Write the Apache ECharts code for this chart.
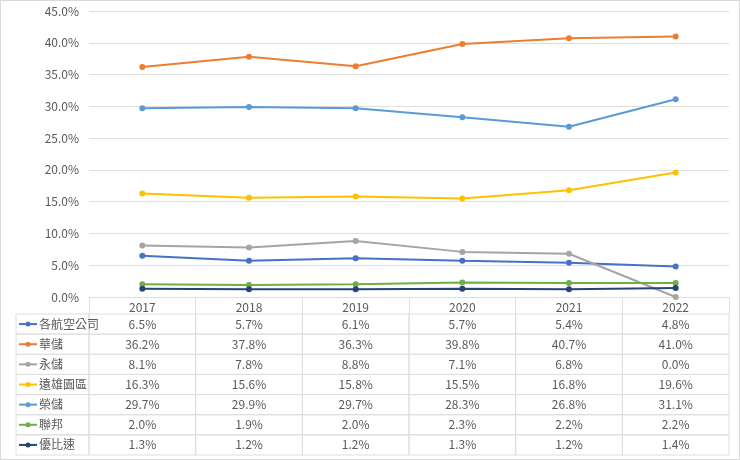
<!DOCTYPE html>
<html>
<head>
<meta charset="utf-8">
<script src="https://cdn.jsdelivr.net/npm/echarts@6/dist/echarts.min.js"></script>
<style>
html,body{margin:0;padding:0;background:#fff;}
#c{width:740px;height:460px;box-sizing:border-box;border:1px solid #d9d9d9;}
</style>
</head>
<body>
<div id="c"></div>
<script>
const years = ['2017','2018','2019','2020','2021','2022'];
const names = ['各航空公司','華儲','永儲','遠雄園區','榮儲','聯邦','優比速'];
const airlines  = [6.5, 5.7, 6.1, 5.7, 5.4, 4.8];
const huachu    = [36.2, 37.8, 36.3, 39.8, 40.7, 41.0];
const yongchu   = [8.1, 7.8, 8.8, 7.1, 6.8, 0.0];
const yuanxiong = [16.3, 15.6, 15.8, 15.5, 16.8, 19.6];
const rongchu   = [29.7, 29.9, 29.7, 28.3, 26.8, 31.1];
const lianbang  = [2.0, 1.9, 2.0, 2.3, 2.2, 2.2];
const ups       = [1.3, 1.2, 1.2, 1.3, 1.2, 1.4];
const yTicks = [0, 5, 10, 15, 20, 25, 30, 35, 40, 45];

const seriesData = [airlines, huachu, yongchu, yuanxiong, rongchu, lianbang, ups];
const colors = ['#4472C4','#ED7D31','#A5A5A5','#FFC000','#5B9BD5','#70AD47','#264478'];
const FONT = '"Noto Sans CJK TC","Noto Sans",sans-serif';
const TXT = '#595959';
const LINE = '#dedede';
const LABEL_COL_W = 73;

const chart = echarts.init(document.getElementById('c'), null, {renderer:'canvas'});

const lineSeries = names.map((n, i) => ({
  name: n,
  type: 'line',
  xAxisIndex: 0, yAxisIndex: 0,
  data: seriesData[i],
  symbol: 'circle',
  symbolSize: 6,
  lineStyle: {width: 2, color: colors[i]},
  itemStyle: {color: colors[i]},
  z: 3 + i
}));

const cellData = [];
seriesData.forEach((arr, s) => arr.forEach((v, c) => cellData.push([c, s, v])));

const cellSeries = {
  type: 'custom',
  xAxisIndex: 1, yAxisIndex: 1,
  data: cellData,
  encode: {x: 0, y: 1},
  silent: true,
  renderItem: function (params, api) {
    const p = api.coord([api.value(0), api.value(1)]);
    const sz = api.size([1, 1]);
    const v = api.value(2);
    return {
      type: 'group',
      children: [
        {type: 'rect', shape: {x: p[0] - sz[0]/2, y: p[1] - sz[1]/2, width: sz[0], height: sz[1]},
         style: {fill: null, stroke: LINE, lineWidth: 1}},
        {type: 'text', style: {x: p[0], y: p[1], text: v.toFixed(1) + '%', fill: TXT,
         font: '12px ' + FONT, align: 'center', verticalAlign: 'middle'}}
      ]
    };
  }
};

const labelSeries = {
  type: 'custom',
  xAxisIndex: 1, yAxisIndex: 1,
  data: names.map((n, i) => [0, i]),
  encode: {x: 0, y: 1},
  silent: true,
  clip: false,
  renderItem: function (params, api) {
    const s = api.value(1);
    const p = api.coord([0, s]);
    const sz = api.size([1, 1]);
    const right = p[0] - sz[0]/2;
    const left = right - LABEL_COL_W;
    const y = p[1];
    return {
      type: 'group',
      children: [
        {type: 'rect', shape: {x: left, y: y - sz[1]/2, width: LABEL_COL_W, height: sz[1]},
         style: {fill: null, stroke: LINE, lineWidth: 1}},
        {type: 'line', shape: {x1: left + 3, y1: y, x2: left + 21, y2: y},
         style: {stroke: colors[s], lineWidth: 2}},
        {type: 'circle', shape: {cx: left + 12, cy: y, r: 2.5}, style: {fill: colors[s]}},
        {type: 'text', style: {x: left + 23, y: y, text: names[s], fill: TXT,
         font: '12px ' + FONT, align: 'left', verticalAlign: 'middle'}}
      ]
    };
  }
};

chart.setOption({
  animation: false,
  backgroundColor: '#fff',
  textStyle: {fontFamily: FONT},
  grid: [
    {left: 88, right: 10, top: 10, height: 286},
    {left: 88, right: 10, top: 313, height: 141}
  ],
  xAxis: [
    {type: 'category', gridIndex: 0, data: years, boundaryGap: true,
     axisLine: {show: true, lineStyle: {color: LINE}},
     axisTick: {show: true, length: 17, lineStyle: {color: LINE}},
     axisLabel: {color: TXT, fontSize: 12, margin: 4, fontFamily: FONT},
     splitLine: {show: false}},
    {type: 'category', gridIndex: 1, data: years, boundaryGap: true, show: false}
  ],
  yAxis: [
    {type: 'value', gridIndex: 0, min: yTicks[0], max: yTicks[yTicks.length-1], interval: 5,
     axisLine: {show: false}, axisTick: {show: false},
     axisLabel: {color: TXT, fontSize: 12, margin: 10, fontFamily: FONT,
       formatter: v => v.toFixed(1) + '%'},
     splitLine: {lineStyle: {color: LINE, width: 1}}},
    {type: 'category', gridIndex: 1, data: names, inverse: true, show: false}
  ],
  series: [cellSeries, labelSeries].concat(lineSeries)
});
</script>
</body>
</html>
